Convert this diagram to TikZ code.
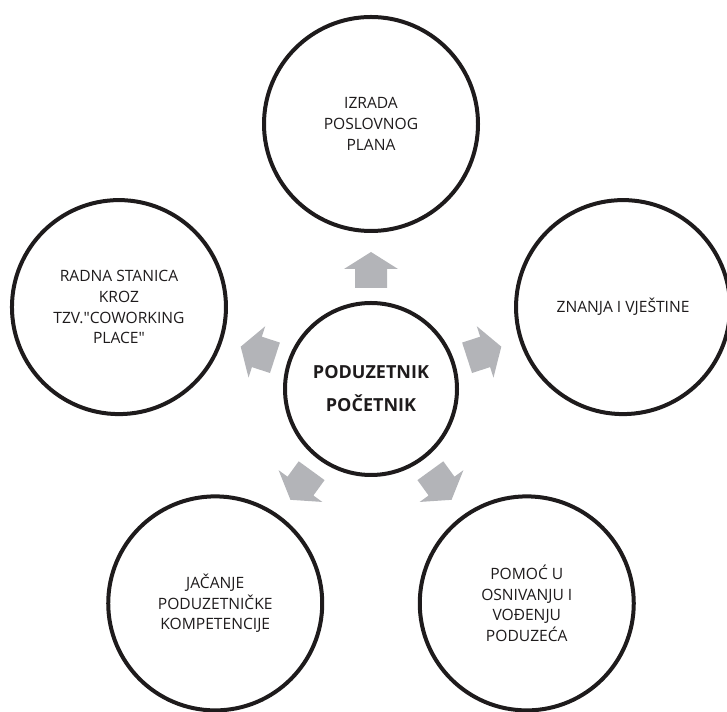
\documentclass[tikz,border=0pt]{standalone}
\usepackage{fontspec}
\setmainfont{Open Sans}
\newfontfamily\plainsans{Open Sans}
\usetikzlibrary{calc}
\definecolor{ink}{RGB}{30,27,28}
\definecolor{arrowgray}{RGB}{179,180,184}
\begin{document}
\begin{tikzpicture}[x=1pt,y=1pt,
  ring/.style={circle, draw=ink, line width=4pt, minimum size=214pt, inner sep=0pt,
    align=center, text=ink, font=\plainsans\fontsize{15.6}{20.7}\selectfont},
  hub/.style={circle, draw=ink, line width=4pt, minimum size=172pt, inner sep=0pt,
    align=center, text=ink, font=\bfseries\fontsize{18}{33}\selectfont},
  blockarrow/.style={fill=arrowgray}]
\useasboundingbox (0,0) rectangle (727,711);
\clip (0,0) rectangle (727,711);
\coordinate (C) at (371,322);
\node[hub] (hub) at (C) {PODUZETNIK\\POČETNIK};
\node[ring] (nTop) at ($(C)+(90:265)$) {IZRADA\\POSLOVNOG\\PLANA};
\node[ring] (nRight) at ($(C)+(18:265)$) {ZNANJA I VJEŠTINE};
\node[ring] (nBR) at ($(C)+(-54:265)$) {POMOĆ U\\OSNIVANJU I\\VOĐENJU\\PODUZEĆA};
\node[ring] (nBL) at ($(C)+(-126:265)$) {JAČANJE\\PODUZETNIČKE\\KOMPETENCIJE};
\node[ring] (nLeft) at ($(C)+(162:265)$) {RADNA STANICA\\KROZ\\TZV."COWORKING\\PLACE"};
\foreach \t in {nTop,nRight,nBR,nBL,nLeft}{
  \coordinate (s) at ($(hub.center)!101pt!(\t.center)$);
  \coordinate (m) at ($(hub.center)!120pt!(\t.center)$);
  \coordinate (e) at ($(hub.center)!137pt!(\t.center)$);
  \fill[blockarrow] ($(s)!16pt!90:(e)$) -- ($(m)!16pt!90:(e)$) -- ($(m)!27pt!90:(e)$)
    -- (e) -- ($(m)!27pt!-90:(e)$) -- ($(m)!16pt!-90:(e)$) -- ($(s)!16pt!-90:(e)$) -- cycle;
}
\end{tikzpicture}
\end{document}
